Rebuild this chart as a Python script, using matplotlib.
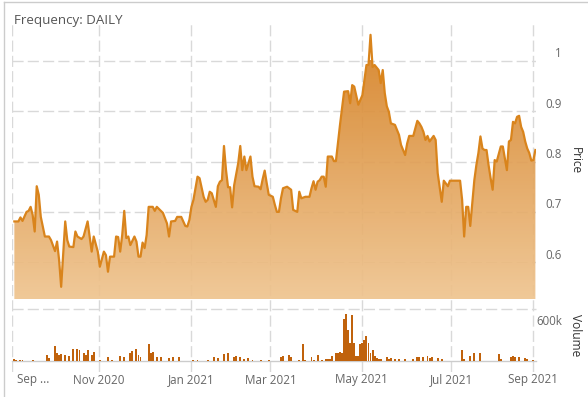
import matplotlib
matplotlib.use("Agg")
import matplotlib.pyplot as plt
import numpy as np
from matplotlib.colors import LinearSegmentedColormap
from matplotlib.transforms import ScaledTranslation, blended_transform_factory
from matplotlib.lines import Line2D

plt.rcParams["font.family"] = ["Open Sans", "DejaVu Sans"]

# trading session number (0 = 1 Sep 2020) and closing price
price_day = [1, 3, 4, 5, 7, 8, 9, 10, 11, 12, 13, 14, 16, 18, 19, 21, 22, 23, 24, 26,
             27, 28, 30, 31, 32, 34, 35, 37, 38, 39, 40, 42, 43, 45, 46, 47, 48, 50, 51, 52,
             53, 54, 55, 56, 57, 58, 60, 61, 62, 63, 64, 65, 66, 67, 69, 70, 71, 73, 74, 76,
             77, 78, 80, 81, 83, 85, 86, 87, 88, 89, 91, 92, 94, 95, 96, 97, 98, 100, 101, 102,
             103, 104, 105, 106, 107, 108, 109, 111, 112, 113, 114, 115, 117, 118, 119, 121, 122, 123, 124, 125,
             126, 128, 129, 130, 131, 132, 133, 135, 137, 138, 140, 141, 142, 144, 146, 147, 148, 149, 150, 151,
             152, 153, 154, 155, 157, 158, 159, 161, 163, 165, 166, 167, 168, 170, 172, 174, 175, 176, 177, 178,
             180, 181, 182, 183, 184, 185, 186, 188, 190, 191, 193, 194, 195, 197, 198, 199, 200, 201, 202, 203,
             204, 205, 207, 208, 209, 211, 212, 214, 215, 220, 221, 222, 223, 224, 225, 227, 228, 229, 230, 231,
             232, 233, 234, 235, 236, 237, 238, 240, 241, 242, 243, 244, 245, 246, 247, 248, 249, 250, 251, 252,
             253, 254, 255, 256, 257]
price = [0.681, 0.681, 0.689, 0.682, 0.700, 0.702, 0.710, 0.694, 0.661, 0.751, 0.734, 0.690, 0.651, 0.651, 0.644, 0.622, 0.641, 0.604, 0.551, 0.681,
         0.644, 0.631, 0.630, 0.661, 0.651, 0.646, 0.651, 0.681, 0.651, 0.621, 0.651, 0.621, 0.591, 0.621, 0.614, 0.581, 0.611, 0.611, 0.651, 0.650,
         0.621, 0.654, 0.702, 0.648, 0.651, 0.634, 0.651, 0.641, 0.611, 0.611, 0.639, 0.628, 0.654, 0.710, 0.710, 0.702, 0.710, 0.702, 0.698, 0.677,
         0.651, 0.681, 0.682, 0.690, 0.690, 0.672, 0.671, 0.684, 0.710, 0.724, 0.770, 0.767, 0.730, 0.720, 0.724, 0.740, 0.737, 0.710, 0.751, 0.760,
         0.763, 0.831, 0.783, 0.749, 0.749, 0.709, 0.753, 0.797, 0.831, 0.783, 0.810, 0.783, 0.810, 0.770, 0.751, 0.750, 0.745, 0.765, 0.782, 0.757,
         0.734, 0.730, 0.714, 0.700, 0.700, 0.727, 0.747, 0.750, 0.744, 0.704, 0.700, 0.740, 0.727, 0.730, 0.730, 0.747, 0.761, 0.744, 0.760, 0.763,
         0.770, 0.770, 0.750, 0.810, 0.810, 0.801, 0.801, 0.873, 0.939, 0.940, 0.916, 0.952, 0.949, 0.913, 0.932, 0.992, 0.992, 1.052, 0.988, 0.992,
         0.982, 0.956, 0.982, 0.936, 0.910, 0.899, 0.876, 0.873, 0.853, 0.833, 0.813, 0.836, 0.851, 0.851, 0.866, 0.881, 0.876, 0.869, 0.859, 0.843,
         0.851, 0.840, 0.851, 0.843, 0.777, 0.720, 0.762, 0.751, 0.762, 0.762, 0.724, 0.651, 0.710, 0.710, 0.672, 0.763, 0.793, 0.817, 0.850, 0.826,
         0.823, 0.823, 0.793, 0.767, 0.744, 0.803, 0.800, 0.830, 0.830, 0.807, 0.783, 0.840, 0.843, 0.879, 0.876, 0.889, 0.891, 0.869, 0.859, 0.840,
         0.826, 0.817, 0.802, 0.803, 0.823]

# daily volume (thousands of shares), sessions with trades only
vol_day = [1, 2, 4, 5, 10, 17, 18, 21, 22, 23, 24, 26, 28, 30, 32, 33, 35, 36, 37, 39,
           40, 43, 47, 49, 53, 55, 58, 59, 61, 62, 63, 67, 68, 69, 71, 73, 77, 79, 82, 89,
           91, 96, 99, 101, 104, 106, 109, 110, 112, 114, 116, 118, 122, 126, 132, 133, 136, 137, 141, 143,
           144, 147, 148, 150, 152, 154, 155, 156, 157, 159, 160, 161, 162, 163, 164, 165, 166, 167, 168, 169,
           170, 171, 172, 173, 174, 175, 176, 177, 178, 179, 180, 181, 184, 185, 186, 188, 190, 193, 197, 199,
           200, 202, 204, 205, 206, 209, 211, 221, 222, 225, 227, 230, 239, 240, 245, 246, 247, 249, 252, 253,
           256]
volume = [35, 25, 20, 20, 15, 110, 55, 275, 145, 110, 130, 110, 90, 220, 220, 200, 145, 110, 200, 110,
          165, 25, 75, 20, 90, 75, 145, 185, 220, 110, 75, 310, 145, 165, 75, 65, 55, 65, 80, 25,
          25, 25, 65, 50, 130, 145, 75, 90, 65, 35, 50, 25, 25, 25, 65, 90, 110, 75, 25, 310,
          25, 65, 25, 110, 25, 45, 40, 45, 90, 145, 150, 165, 140, 765, 860, 565, 330, 840, 330, 90,
          90, 310, 320, 385, 455, 320, 145, 200, 90, 50, 30, 30, 65, 30, 50, 30, 30, 30, 30, 65,
          65, 80, 90, 50, 65, 50, 40, 200, 30, 90, 145, 145, 130, 30, 80, 90, 80, 80, 50, 30,
          20]

month_day = [0, 42.5, 87.7, 126.8, 171.7, 215.7, 256]
month_labels = ["Sep ...", "Nov 2020", "Jan 2021", "Mar 2021", "May 2021", "Jul 2021", "Sep 2021"]
price_ticks = [0.6, 0.7, 0.8, 0.9, 1.0]
price_tick_labels = ["0.6", "0.7", "0.8", "0.9", "1"]

W, H = 588, 397
xlim = (-0.15, 257.3)
plim = (0.5268, 1.0775)
vlim = (0, 950)
grid_c = "#d9d9d9"
txt_c = "#666666"
line_c = "#d9841c"

fig = plt.figure(figsize=(W / 100, H / 100), dpi=100)


def rect(x0, y0, x1, y1):
    return [x0 / W, 1 - y1 / H, (x1 - x0) / W, (y1 - y0) / H]


def offset(dx, dy):
    return ScaledTranslation(dx / 100, dy / 100, fig.dpi_scale_trans)


# vertical dashed grid spanning both panes
ax_g = fig.add_axes(rect(12, 22, 536, 372), zorder=0)
ax_g.set_xlim(xlim)
ax_g.axis("off")
for d in month_day:
    ax_g.axvline(d, color=grid_c, lw=1, dashes=(8, 3))

# price pane
ax_p = fig.add_axes(rect(12, 22, 536, 299), zorder=1)
ax_p.patch.set_visible(False)
for t in price_ticks:
    ax_p.axhline(t, color=grid_c, lw=1, dashes=(8, 3), zorder=0)
poly = ax_p.fill_between(price_day, price, plim[0], facecolor="none", edgecolor="none")
cmap = LinearSegmentedColormap.from_list("fill", ["#efc48f", "#d7852a"])
img = ax_p.imshow(np.linspace(0, 1, 256).reshape(-1, 1), cmap=cmap, aspect="auto",
                  extent=[xlim[0], xlim[1], plim[0], 1.0], origin="lower", alpha=0.92, zorder=2)
img.set_clip_path(poly.get_paths()[0], transform=ax_p.transData)
ax_p.plot(price_day, price, color=line_c, lw=1.6, zorder=3, solid_joinstyle="round")
ax_p.set_xlim(xlim)
ax_p.set_ylim(plim)
ax_p.axis("off")
tr = blended_transform_factory(ax_p.transAxes, ax_p.transData) + offset(26, 7)
for t, lab in zip(price_ticks, price_tick_labels):
    ax_p.text(1, t, lab, transform=tr, ha="right", va="center", fontsize=8.3, color=txt_c)

# volume pane
ax_v = fig.add_axes(rect(12, 309, 536, 361), zorder=1)
ax_v.patch.set_visible(False)
ax_v.axhline(vlim[1], color=grid_c, lw=1, dashes=(8, 3), clip_on=False)
ax_v.axhline(0, color="#cccccc", lw=1, clip_on=False)
ax_v.bar(vol_day, volume, width=0.95, color="#c0620c", zorder=2)
ax_v.set_xlim(xlim)
ax_v.set_ylim(vlim)
ax_v.axis("off")
trv = blended_transform_factory(ax_v.transAxes, ax_v.transData) + offset(26, 7)
ax_v.text(1, 600, "600k", transform=trv, ha="right", va="center", fontsize=8.3, color=txt_c)

trx = blended_transform_factory(ax_v.transData, ax_v.transAxes)
for i, (d, lab) in enumerate(zip(month_day, month_labels)):
    if i == 0:
        ax_v.text(d, 0, lab, transform=trx + offset(5, -19), ha="left", va="center",
                  fontsize=8.4, color=txt_c)
    else:
        ax_v.text(d, 0, lab, transform=trx + offset(0, -19), ha="center", va="center",
                  fontsize=8.4, color=txt_c)

fig.text(575 / W, 1 - 160.5 / H, "Price", rotation=-90, ha="center", va="center",
         fontsize=8.6, color="#333333")
fig.text(575 / W, 1 - 335 / H, "Volume", rotation=-90, ha="center", va="center",
         fontsize=8.6, color="#333333")
fig.text(14 / W, 1 - 20.5 / H, "Frequency: DAILY", ha="left", va="center",
         fontsize=9.6, color="#555555")

# outer frame
fig.add_artist(Line2D([3.5 / W, 3.5 / W], [0, 1 - 1.5 / H], transform=fig.transFigure,
                      color="#cccccc", lw=1))
fig.add_artist(Line2D([3.5 / W, 1], [1 - 1.5 / H, 1 - 1.5 / H], transform=fig.transFigure,
                      color="#cccccc", lw=1))

fig.savefig("out.png", dpi=100)
